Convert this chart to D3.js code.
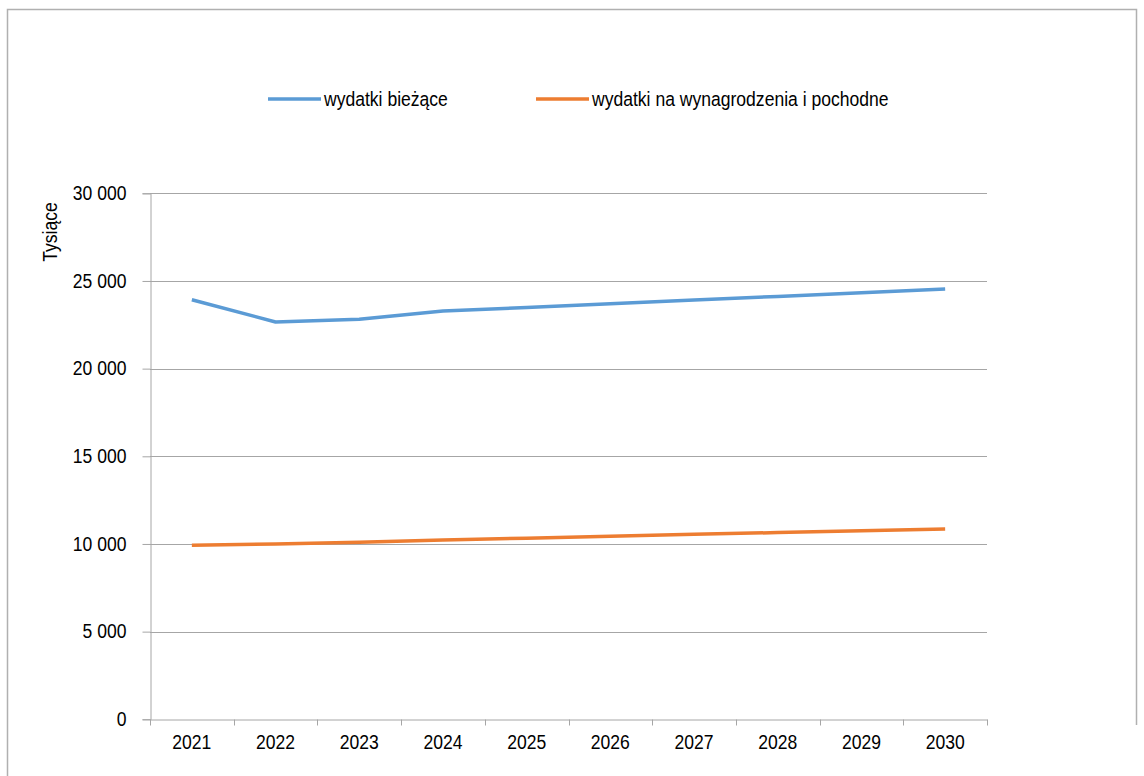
<!DOCTYPE html>
<html>
<head>
<meta charset="utf-8">
<script src="https://cdn.jsdelivr.net/npm/d3@7"></script>
<style>
  html, body { margin: 0; padding: 0; background: #fff; }
  svg { display: block; }
  text { font-family: "Liberation Sans", Arial, sans-serif; fill: #000; }
</style>
</head>
<body>
<svg id="chart" width="1144" height="776"></svg>
<script>
// ---- data (thousands of PLN) ----
const years = ["2021","2022","2023","2024","2025","2026","2027","2028","2029","2030"];
const seriesNames = ["wydatki bieżące", "wydatki na wynagrodzenia i pochodne"];
const wydatkiBiezace = [23930, 22660, 22810, 23290, 23490, 23700, 23910, 24120, 24330, 24540];
const wydatkiWynagrodzenia = [9930, 10000, 10100, 10220, 10330, 10440, 10550, 10650, 10760, 10860];
const yTicks = [0, 5000, 10000, 15000, 20000, 25000, 30000];
const yTitle = "Tysiące";
const colors = ["#5b9bd5", "#ed7d31"];

const FS = "19.5px";
const SX = 0.9; // horizontal condensation of the typeface
const svg = d3.select("#chart");
const grid = "#a6a6a6";

// outer frame
svg.append("path")
  .attr("d", "M7.5,780 L7.5,9.5 L1136.5,9.5 L1136.5,725")
  .attr("fill", "none").attr("stroke", "#b0b0b0").attr("stroke-width", 1.5);

const m = { left: 150, right: 987, top: 193.3, bottom: 719.3 };
const x = d3.scaleBand().domain(years).range([m.left, m.right]);
const y = d3.scaleLinear().domain([0, 30000]).range([m.bottom, m.top]);

const fmt = v => d3.format(",")(v).replace(/,/g, " ");

// condense text horizontally around its own anchor point
function condense(sel) {
  sel.each(function () {
    const t = d3.select(this);
    const px = +t.attr("x") || 0, py = +t.attr("y") || 0;
    t.attr("x", 0).attr("y", 0)
     .attr("transform", `translate(${px},${py}) scale(${SX},1)`)
     .attr("font-size", FS).attr("font-family", "Liberation Sans, Arial, sans-serif").attr("fill", "#000");
  });
}

// gridlines
svg.append("g").selectAll("line").data(yTicks.filter(d => d > 0)).join("line")
  .attr("x1", m.left).attr("x2", m.right)
  .attr("y1", d => Math.round(y(d)) + 0.5).attr("y2", d => Math.round(y(d)) + 0.5)
  .attr("stroke", grid).attr("stroke-width", 1);

// y axis
const yAxis = svg.append("g").attr("transform", `translate(${m.left + 0.5},0)`)
  .call(d3.axisLeft(y).tickValues(yTicks).tickFormat(fmt).tickSize(8).tickPadding(16));
yAxis.select(".domain").attr("stroke", grid);
yAxis.selectAll(".tick line").attr("stroke", grid);
yAxis.selectAll(".tick text").call(condense);

// x axis
const xAxis = svg.append("g").attr("transform", `translate(0,${Math.round(m.bottom) + 0.5})`)
  .call(d3.axisBottom(x).tickSize(0).tickPadding(16));
xAxis.select(".domain").attr("stroke", grid);
xAxis.selectAll(".tick text").call(condense);
// tick marks between categories
const edges = years.map(d => x(d)).concat([x.range()[1]]);
xAxis.append("g").selectAll("line").data(edges).join("line")
  .attr("x1", d => Math.round(d) + 0.5).attr("x2", d => Math.round(d) + 0.5)
  .attr("y1", 0).attr("y2", 6).attr("stroke", grid);

// lines
const line = d3.line().x((d, i) => x(years[i]) + x.bandwidth() / 2).y(d => y(d));
[wydatkiBiezace, wydatkiWynagrodzenia].forEach((s, k) => {
  svg.append("path").datum(s).attr("d", line)
    .attr("fill", "none").attr("stroke", colors[k]).attr("stroke-width", 3.5)
    .attr("stroke-linejoin", "round");
});

// y title
svg.append("text").attr("transform", `translate(57,232) rotate(-90) scale(${SX},1)`)
  .attr("text-anchor", "middle").attr("font-size", FS).text(yTitle);

// legend
const legendX = [268, 536];
seriesNames.forEach((n, k) => {
  const g = svg.append("g").attr("transform", `translate(${legendX[k]},99)`);
  g.append("line").attr("x1", 0).attr("x2", 53).attr("y1", 0).attr("y2", 0)
    .attr("stroke", colors[k]).attr("stroke-width", 3.5);
  g.append("text").attr("transform", `translate(56,7) scale(${SX},1)`)
    .attr("font-size", FS).text(n);
});
</script>
</body>
</html>
